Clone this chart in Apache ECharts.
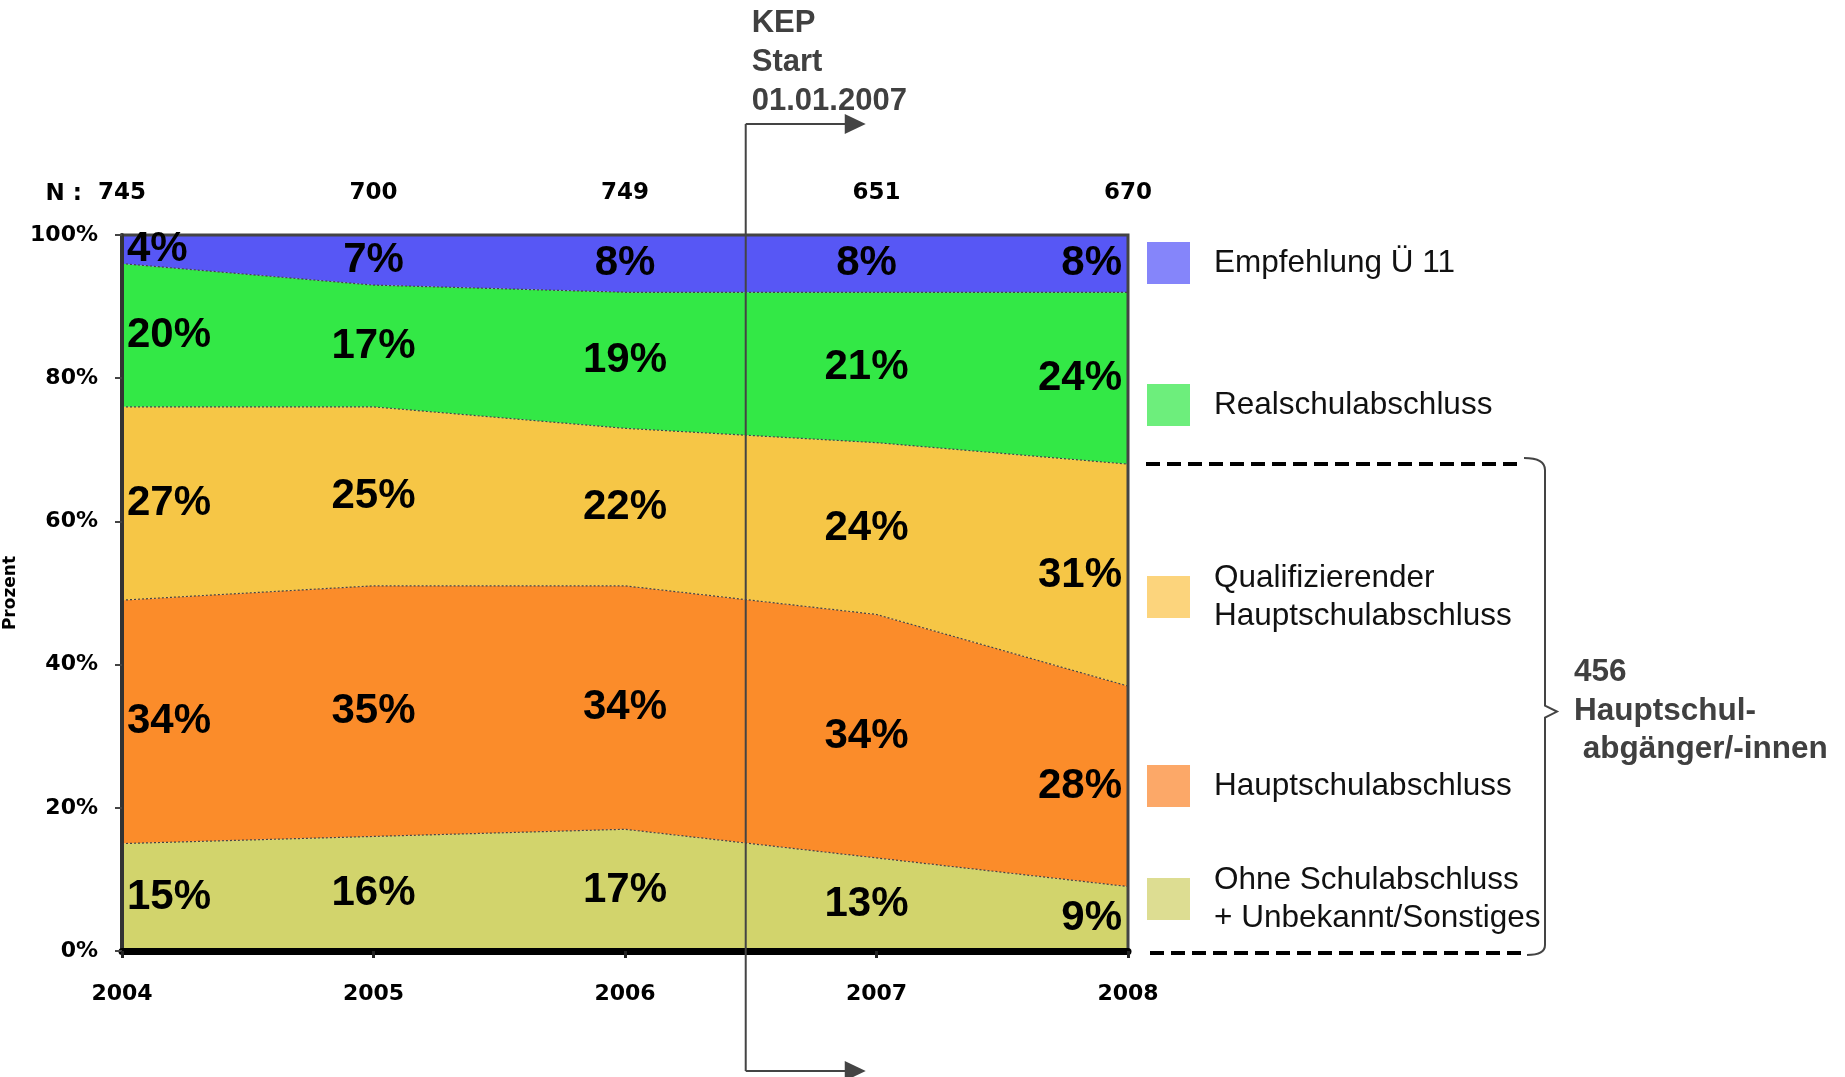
<!DOCTYPE html>
<html><head><meta charset="utf-8">
<script src="https://cdn.jsdelivr.net/npm/echarts@6/dist/echarts.min.js"></script>
<style>html,body{margin:0;padding:0;background:#fff}#c{width:1845px;height:1077px}</style>
</head><body><div id="c"></div>
<script>
// ---- data ----
const years = ['2004', '2005', '2006', '2007', '2008'];
const nValues = [745, 700, 749, 651, 670];
const ohne = [15, 16, 17, 13, 9];
const haupt = [34, 35, 34, 34, 28];
const quali = [27, 25, 22, 24, 31];
const real = [20, 17, 19, 21, 24];
const empf = [4, 7, 8, 8, 8];
const seriesNames = ['Ohne Schulabschluss + Unbekannt/Sonstiges', 'Hauptschulabschluss', 'Qualifizierender Hauptschulabschluss', 'Realschulabschluss', 'Empfehlung Ü 11'];
const legendLabels = ['Ohne Schulabschluss\n+ Unbekannt/Sonstiges', 'Hauptschulabschluss', 'Qualifizierender\nHauptschulabschluss', 'Realschulabschluss', 'Empfehlung Ü 11'];
const kepFrom = 2, kepFrac = 0.48; // KEP start: between 2006 and 2007
const bracketTotal = 456;

// ---- styles ----
const bands = [ohne, haupt, quali, real, empf];
const areaColors = ['#D2D46C', '#FB8C2A', '#F6C646', '#33E846', '#5757F5'];
const legendColors = ['#DDDD92', '#FCA868', '#FCD47C', '#6DEE7C', '#8585FA'];
const legendCenters = [899, 786, 597, 405, 263];
const colAlign = ['left', 'center', 'center', 'center', 'right'];
const colOffset = [5, 0, 0, -10, -6];

const series = [];
bands.forEach((vals, b) => {
  series.push({
    name: seriesNames[b], type: 'line', stack: 'total', showSymbol: false, symbol: 'none',
    data: vals.slice(),
    lineStyle: { color: '#444', width: 1.2, type: [2, 2] },
    areaStyle: { color: areaColors[b], opacity: 1 },
    itemStyle: { color: areaColors[b] },
    z: 2, silent: true
  });
});
bands.forEach((vals, b) => {
  series.push({
    name: 'lbl' + b, type: 'scatter', symbolSize: 0, itemStyle: { color: '#000', opacity: 1 },
    silent: true, z: 20,
    data: years.map((y, i) => {
      let base = 0;
      for (let k = 0; k < b; k++) base += bands[k][i];
      return {
        value: [i, base + vals[i] / 2, vals[i]],
        label: { align: colAlign[i], offset: [colOffset[i], 0] }
      };
    }),
    label: {
      show: true, position: 'inside', color: '#000', opacity: 1, textBorderWidth: 0,
      fontFamily: 'Liberation Sans', fontWeight: 'bold', fontSize: 42,
      verticalAlign: 'middle',
      formatter: p => p.value[2] + '%'
    }
  });
});

const legends = seriesNames.map((n, b) => {
  const twoLine = legendLabels[b].indexOf('\n') >= 0;
  const h = twoLine ? 76 : 42;
  return {
    left: 1147, top: legendCenters[b] - h / 2, orient: 'vertical', padding: 0,
    itemWidth: 43, itemHeight: 42, icon: 'rect', selectedMode: false,
    data: [{ name: n, itemStyle: { color: legendColors[b], borderWidth: 0 } }],
    formatter: () => legendLabels[b],
    textStyle: { fontFamily: 'Liberation Sans', fontSize: 31.5, color: '#111', lineHeight: 38, padding: [0, 0, 0, 19] }
  };
});

const axisFont = { fontFamily: 'DejaVu Sans', fontWeight: 'bold', fontSize: 22, color: '#000' };

const option = {
  animation: false,
  backgroundColor: '#fff',
  grid: { left: 122, right: 717, top: 235, bottom: 126, outerBoundsMode: 'none', containLabel: false, show: true, borderColor: '#444', borderWidth: 3, backgroundColor: 'rgba(0,0,0,0)', z: 5 },
  legend: legends,
  xAxis: [{
    type: 'category', data: years, boundaryGap: false, z: 10,
    axisLine: { show: true, onZero: false, lineStyle: { color: '#000', width: 7 } },
    axisTick: { show: true, length: 7, lineStyle: { color: '#222', width: 3 } },
    axisLabel: Object.assign({ margin: 32, interval: 0 }, axisFont),
    splitLine: { show: false }
  }, {
    type: 'category', data: years, boundaryGap: false, position: 'top',
    axisLine: { show: false }, axisTick: { show: false }, splitLine: { show: false },
    axisLabel: Object.assign({ margin: 30, interval: 0, formatter: (v, i) => String(nValues[i]) }, axisFont, { fontSize: 23 })
  }],
  yAxis: {
    type: 'value', min: 0, max: 100, interval: 20, z: 10,
    name: 'Prozent', nameLocation: 'middle', nameRotate: 90, nameGap: 74,
    nameTextStyle: { fontFamily: 'DejaVu Sans', fontWeight: 'bold', fontSize: 17, color: '#000' },
    axisLine: { show: true, lineStyle: { color: '#333', width: 4 } },
    axisTick: { show: true, length: 7, lineStyle: { color: '#444', width: 2 } },
    axisLabel: Object.assign({ margin: 24, formatter: v => v + '%' }, axisFont),
    splitLine: { show: false }
  },
  series: series
};

const chart = echarts.init(document.getElementById('c'), null, { renderer: 'canvas' });
chart.setOption(option);

// annotations derived from data/axes
const xa = chart.convertToPixel({ gridIndex: 0 }, [kepFrom, 0])[0];
const xb = chart.convertToPixel({ gridIndex: 0 }, [kepFrom + 1, 0])[0];
const kx = xa + (xb - xa) * kepFrac;
const last = years.length - 1;
const hsTop = ohne[last] + haupt[last] + quali[last];
const yDashTop = chart.convertToPixel({ gridIndex: 0 }, [last, hsTop])[1];
const yDashBot = chart.convertToPixel({ gridIndex: 0 }, [last, 0])[1];
const yMid = (yDashTop + yDashBot) / 2 + 4;
const arrowTop = 124, arrowBot = 1071;
const grey = '#444';
const bx = 1545;

const braceStyle = { stroke: grey, lineWidth: 2, fill: null };
chart.setOption({
  graphic: [
    { type: 'line', z: 50, shape: { x1: kx, y1: arrowTop, x2: kx, y2: arrowBot }, style: { stroke: grey, lineWidth: 2 } },
    { type: 'line', z: 50, shape: { x1: kx, y1: arrowTop, x2: kx + 102, y2: arrowTop }, style: { stroke: grey, lineWidth: 2 } },
    { type: 'polygon', z: 50, shape: { points: [[kx + 99, arrowTop - 10], [kx + 120, arrowTop], [kx + 99, arrowTop + 10]] }, style: { fill: grey } },
    { type: 'line', z: 50, shape: { x1: kx, y1: arrowBot, x2: kx + 102, y2: arrowBot }, style: { stroke: grey, lineWidth: 2 } },
    { type: 'polygon', z: 50, shape: { points: [[kx + 99, arrowBot - 10], [kx + 120, arrowBot], [kx + 99, arrowBot + 10]] }, style: { fill: grey } },
    { type: 'text', z: 50, x: kx + 6, y: 4, style: { text: 'KEP\nStart\n01.01.2007', fontFamily: 'Liberation Sans', fontWeight: 'bold', fontSize: 31, fill: '#404040', lineHeight: 39, verticalAlign: 'top', align: 'left' } },
    { type: 'text', z: 50, x: 82, y: 194, style: { text: 'N :', fontFamily: 'DejaVu Sans', fontWeight: 'bold', fontSize: 23, fill: '#000', verticalAlign: 'middle', align: 'right' } },
    { type: 'line', z: 50, shape: { x1: 1146, y1: yDashTop, x2: 1524, y2: yDashTop }, style: { stroke: '#000', lineWidth: 4, lineDash: [14, 7] } },
    { type: 'line', z: 50, shape: { x1: 1150, y1: yDashBot + 2, x2: 1527, y2: yDashBot + 2 }, style: { stroke: '#000', lineWidth: 4, lineDash: [14, 7] } },
    { type: 'bezierCurve', z: 50, shape: { x1: 1524, y1: yDashTop - 6, cpx1: bx, cpy1: yDashTop - 6, x2: bx, y2: yDashTop + 6 }, style: braceStyle },
    { type: 'polyline', z: 50, shape: { points: [[bx, yDashTop + 6], [bx, yMid - 6], [bx + 12, yMid], [bx, yMid + 6], [bx, yDashBot - 6]] }, style: braceStyle },
    { type: 'bezierCurve', z: 50, shape: { x1: bx, y1: yDashBot - 6, cpx1: bx, cpy1: yDashBot + 4, x2: 1527, y2: yDashBot + 4 }, style: braceStyle },
    { type: 'text', z: 50, x: 1574, y: yMid - 58, style: { text: bracketTotal + '\nHauptschul-\n abgänger/-innen', fontFamily: 'Liberation Sans', fontWeight: 'bold', fontSize: 31.5, fill: '#404040', lineHeight: 38.5, verticalAlign: 'top', align: 'left' } }
  ]
});
</script>
</body></html>
